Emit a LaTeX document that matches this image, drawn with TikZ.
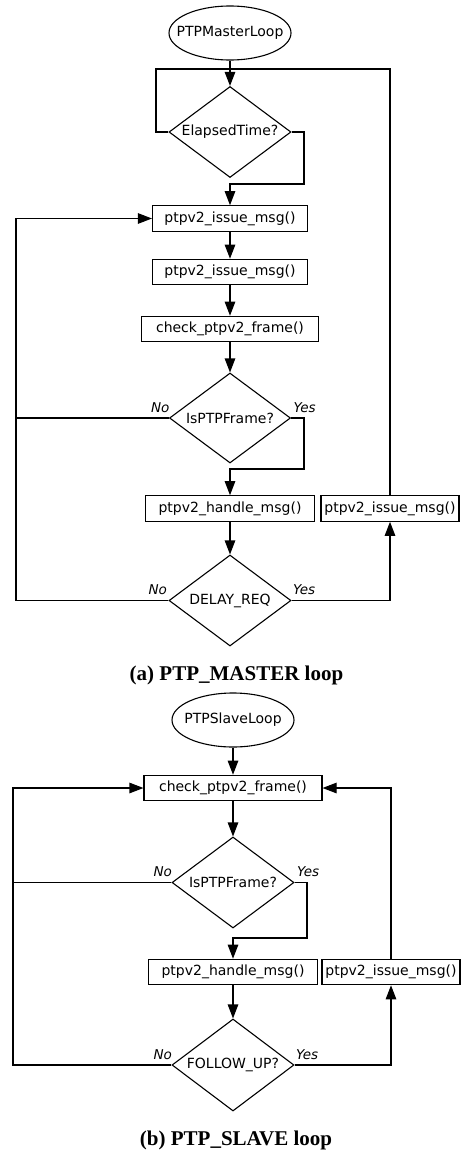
\documentclass[tikz,border=0pt]{standalone}
\usepackage{fontspec}
\setmainfont{DejaVu Sans}
\newfontfamily\capfont{Liberation Serif}
\usetikzlibrary{shapes.geometric,arrows.meta}
\begin{document}
\begin{tikzpicture}[x=1pt,y=-1pt,
  line width=1.1pt,
  every node/.style={font=\fontsize{14}{16}\selectfont},
  procbox/.style={draw, rectangle, inner sep=0pt, minimum height=25.5pt},
  decide/.style={draw, diamond, inner sep=0pt, minimum width=122pt, minimum height=91pt},
  term/.style={draw, ellipse, inner sep=0pt, minimum width=122pt, minimum height=54pt},
  lab/.style={inner sep=0pt, font=\fontsize{13.5}{15}\selectfont\itshape},
  captext/.style={inner sep=0pt, font=\fontsize{21}{24}\selectfont\capfont\bfseries},
  arr/.style={-{Triangle[length=14pt,width=10.5pt]}}
]
\useasboundingbox (0,0) rectangle (461,1151);

% ---------- (a) master loop ----------
\node[term] (e1) at (230,33) {\makebox[0pt]{PTPMasterLoop}};
\node[decide] (d1) at (230,132) {\makebox[0pt]{ElapsedTime?}};
\node[procbox, minimum width=155pt] (b1) at (230,218.5) {ptpv2\_issue\_msg()};
\node[procbox, minimum width=155pt] (b2) at (230,272) {ptpv2\_issue\_msg()};
\node[procbox, minimum width=177pt] (b3) at (230,329) {check\_ptpv2\_frame()};
\node[decide, minimum width=121pt, minimum height=90pt] (d2) at (230,418) {\makebox[0pt]{IsPTPFrame?}};
\node[procbox, minimum width=169pt] (b4) at (230,508.5) {ptpv2\_handle\_msg()};
\node[procbox, minimum width=138pt] (b5) at (390,508.5) {ptpv2\_issue\_msg()};
\node[decide] (d3) at (230,600.5) {\makebox[0pt]{DELAY\_REQ}};

\coordinate (j1) at (230,69);
\coordinate (l1) at (156,132);
\coordinate (l1t) at (156,69);
\coordinate (r1) at (304,132);
\coordinate (r1b) at (304,184);
\coordinate (m1) at (230,184);
\coordinate (r2) at (304,418);
\coordinate (r2b) at (304,469);
\coordinate (m2) at (230,469);
\coordinate (lx2) at (16,418);
\coordinate (lx3) at (16,600.5);
\coordinate (lx1) at (16,218.5);
\coordinate (rx3) at (390,600.5);
\coordinate (rtop) at (390,69);

\draw[arr] (e1.south) -- (d1.north);
\draw (d1.west) -- (l1) -- (l1t) -- (j1);
\draw (b5.north) -- (rtop) -- (j1);
\draw[arr] (d1.east) -- (r1) -- (r1b) -- (m1) -- (b1.north);
\draw[arr] (b1.south) -- (b2.north);
\draw[arr] (b2.south) -- (b3.north);
\draw[arr] (b3.south) -- (d2.north);
\draw (d2.west) -- (lx2);
\draw[arr] (d3.west) -- (lx3) -- (lx1) -- (b1.west);
\draw[arr] (d2.east) -- (r2) -- (r2b) -- (m2) -- (b4.north);
\draw[arr] (b4.south) -- (d3.north);
\draw[arr] (d3.east) -- (rx3) -- (b5.south);

\node[lab, anchor=base east] (n2) at ([shift={(1,-6)}]d2.west) {No};
\node[lab, anchor=base west] (y2) at ([shift={(2,-6)}]d2.east) {Yes};
\node[lab, anchor=base east] (n3) at ([shift={(-1,-6)}]d3.west) {No};
\node[lab, anchor=base west] (y3) at ([shift={(1,-6)}]d3.east) {Yes};

\node[captext] (ca) at (236.5,675) {(a) PTP\_MASTER loop};

% ---------- (b) slave loop ----------
\node[term] (e2) at (233,720) {\makebox[0pt]{PTPSlaveLoop}};
\node[procbox, minimum width=178pt] (c1) at (233,788) {check\_ptpv2\_frame()};
\node[decide] (d4) at (233,882.5) {\makebox[0pt]{IsPTPFrame?}};
\node[procbox, minimum width=169pt] (h2) at (233,972) {ptpv2\_handle\_msg()};
\node[procbox, minimum width=138pt] (i2) at (391,972) {ptpv2\_issue\_msg()};
\node[decide, minimum height=92pt] (d5) at (233,1065) {\makebox[0pt]{FOLLOW\_UP?}};

\coordinate (lb4) at (13,882.5);
\coordinate (lb5) at (13,1065);
\coordinate (lbc) at (13,788);
\coordinate (rb4) at (307,882.5);
\coordinate (rb4b) at (307,938);
\coordinate (mb4) at (233,938);
\coordinate (rb5) at (391,1065);
\coordinate (rbc) at (391,788);

\draw[arr] (e2.south) -- (c1.north);
\draw[arr] (c1.south) -- (d4.north);
\draw (d4.west) -- (lb4);
\draw[arr] (d4.east) -- (rb4) -- (rb4b) -- (mb4) -- (h2.north);
\draw[arr] (h2.south) -- (d5.north);
\draw[arr] (d5.west) -- (lb5) -- (lbc) -- (c1.west);
\draw[arr] (d5.east) -- (rb5) -- (i2.south);
\draw[arr] (i2.north) -- (rbc) -- (c1.east);

\node[lab, anchor=base east] (n4) at ([shift={(1,-6)}]d4.west) {No};
\node[lab, anchor=base west] (y4) at ([shift={(2,-6)}]d4.east) {Yes};
\node[lab, anchor=base east] (n5) at ([shift={(1,-6)}]d5.west) {No};
\node[lab, anchor=base west] (y5) at ([shift={(1,-6)}]d5.east) {Yes};

\node[captext] (cb) at (236,1140) {(b) PTP\_SLAVE loop};
\end{tikzpicture}
\end{document}
